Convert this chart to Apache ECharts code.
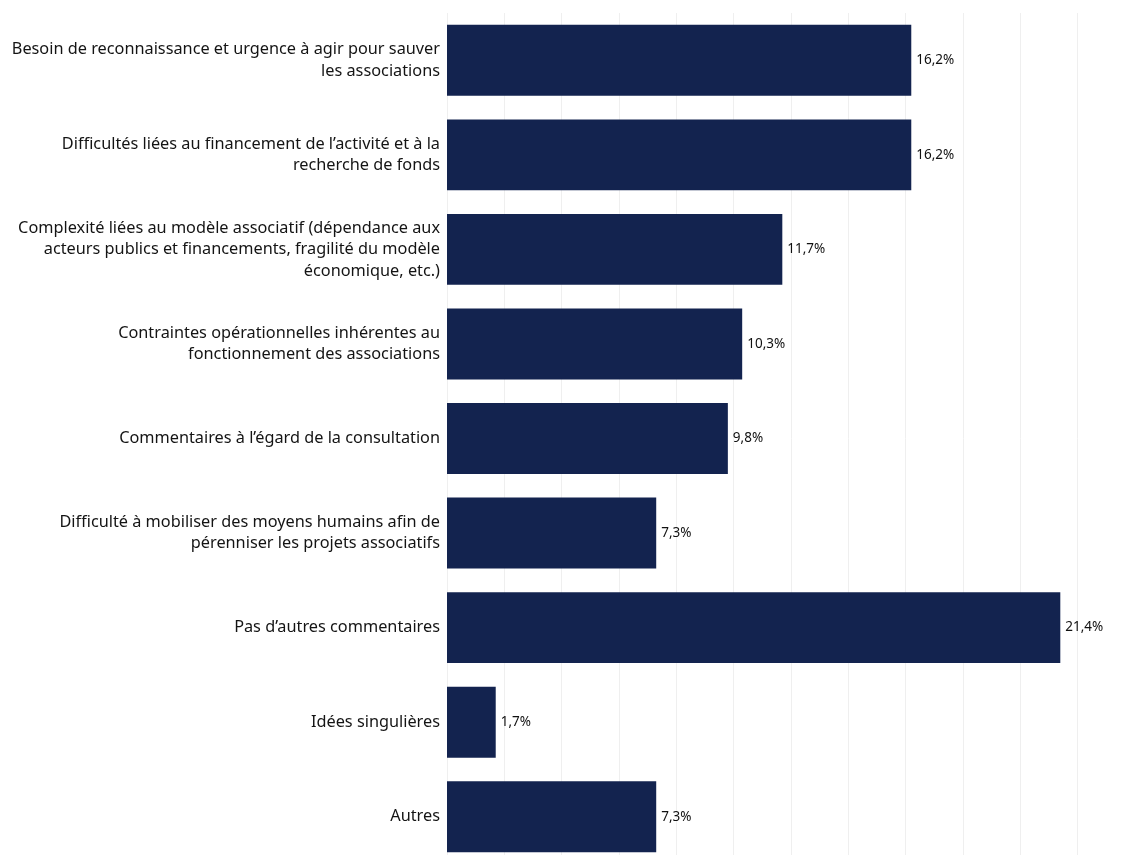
<!DOCTYPE html>
<html>
<head>
<meta charset="utf-8">
<script src="https://cdn.jsdelivr.net/npm/echarts@6/dist/echarts.min.js"></script>
<style>
html,body{margin:0;padding:0;background:#fff;overflow:hidden;}
#chart{width:1124px;height:880px;}
</style>
</head>
<body>
<div id="chart"></div>
<script>
const categories = [
  "Besoin de reconnaissance et urgence à agir pour sauver\nles associations",
  "Difficultés liées au financement de l’activité et à la\nrecherche de fonds",
  "Complexité liées au modèle associatif (dépendance aux\nacteurs publics et financements, fragilité du modèle\néconomique, etc.)",
  "Contraintes opérationnelles inhérentes au\nfonctionnement des associations",
  "Commentaires à l’égard de la consultation",
  "Difficulté à mobiliser des moyens humains afin de\npérenniser les projets associatifs",
  "Pas d’autres commentaires",
  "Idées singulières",
  "Autres"
];
const values = [16.2, 16.2, 11.7, 10.3, 9.8, 7.3, 21.4, 1.7, 7.3];
const xTicks = [0, 2, 4, 6, 8, 10, 12, 14, 16, 18, 20, 22];

const chart = echarts.init(document.getElementById('chart'));
chart.setOption({
  animation: false,
  backgroundColor: '#ffffff',
  textStyle: { fontFamily: 'Noto Sans' },
  grid: { left: 447, top: 13, width: 630.5, height: 851, containLabel: false },
  xAxis: {
    type: 'value',
    min: xTicks[0],
    max: xTicks[xTicks.length - 1],
    interval: 2,
    axisLabel: { show: false },
    axisLine: { show: false },
    axisTick: { show: false },
    splitLine: { show: true, lineStyle: { color: '#efefef', width: 1 } }
  },
  yAxis: {
    type: 'category',
    inverse: true,
    data: categories,
    axisLine: { show: false },
    axisTick: { show: false },
    axisLabel: {
      margin: 7,
      fontSize: 16.3,
      lineHeight: 21.5,
      color: '#141414',
      align: 'right',
      fontFamily: 'Noto Sans'
    }
  },
  series: [{
    type: 'bar',
    data: values,
    barCategoryGap: '25%',
    itemStyle: { color: '#13234f' },
    label: {
      show: true,
      position: 'right',
      distance: 5,
      fontSize: 13.5,
      color: '#111111',
      fontFamily: 'Noto Sans',
      formatter: p => p.value.toFixed(1).replace('.', ',') + '%'
    }
  }]
});
</script>
</body>
</html>
